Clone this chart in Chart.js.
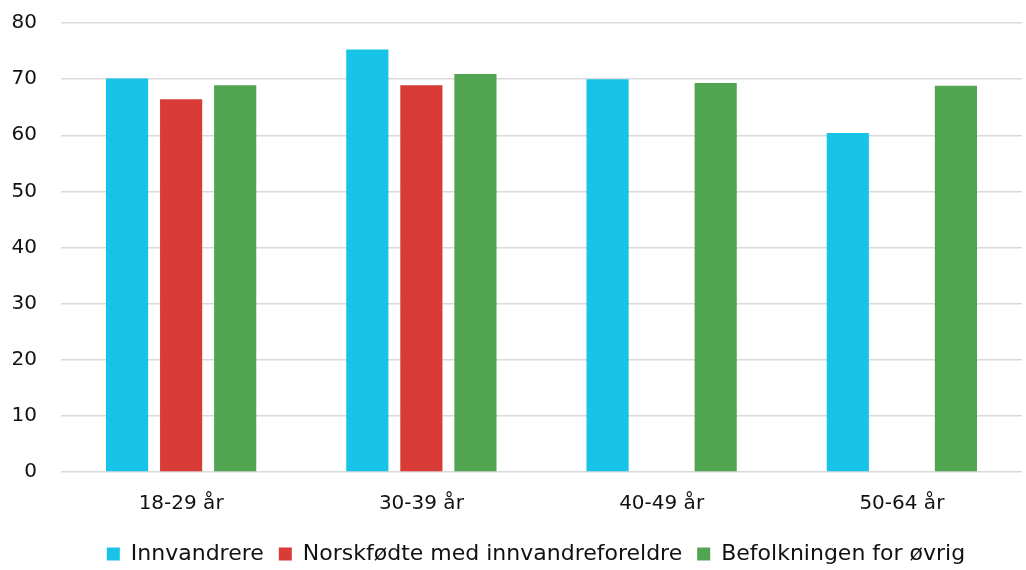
<!DOCTYPE html>
<html>
<head>
<meta charset="utf-8">
<script src="https://cdn.jsdelivr.net/npm/chart.js@4/dist/chart.umd.min.js"></script>
<style>
  html, body { margin: 0; padding: 0; background: #fff; }
  #wrap { width: 1026px; height: 570px; overflow: hidden; position: relative; }
  #chart { position: absolute; left: 0; top: -13px; }
</style>
</head>
<body>
<div id="wrap"><canvas id="chart" width="1026" height="588"></canvas></div>
<script>
const categories = ['18-29 år', '30-39 år', '40-49 år', '50-64 år'];
const innvandrere = [70.1, 75.3, 70.0, 60.4];
const norskfodte = [66.4, 68.9, null, null];
const befolkningen = [68.9, 70.9, 69.3, 68.8];
const yTicks = [0, 10, 20, 30, 40, 50, 60, 70, 80];

const font = 'DejaVu Sans';

// centre the legend under the plot area rather than the whole canvas
const legendShift = {
  id: 'legendShift',
  afterLayout(chart) {
    chart.legend.left += 23;
    chart.legend.right += 23;
  }
};

new Chart(document.getElementById('chart'), {
  type: 'bar',
  data: {
    labels: categories,
    datasets: [
      { label: 'Innvandrere', data: innvandrere, backgroundColor: '#17c4e8' },
      { label: 'Norskfødte med innvandreforeldre', data: norskfodte, backgroundColor: '#d93b37' },
      { label: 'Befolkningen for øvrig', data: befolkningen, backgroundColor: '#52a550' }
    ]
  },
  options: {
    responsive: false,
    animation: false,
    layout: { padding: { top: 0, right: 4, left: 4, bottom: 0 } },
    datasets: { bar: { categoryPercentage: 0.675, barPercentage: 0.78 } },
    plugins: {
      legend: {
        position: 'bottom',
        labels: {
          font: { family: font, size: 22 },
          color: '#111',
          boxWidth: 13,
          boxHeight: 13,
          padding: 15
        }
      },
      tooltip: { enabled: false }
    },
    scales: {
      x: {
        grid: { display: false },
        border: { display: false },
        ticks: { font: { family: font, size: 20 }, color: '#111', padding: 12 }
      },
      y: {
        min: 0,
        max: 80,
        afterBuildTicks: (axis) => { axis.ticks = yTicks.map((v) => ({ value: v })); },
        afterFit: (axis) => { axis.width = 57; },
        grid: { color: '#d9d9d9', lineWidth: 1.5, drawTicks: false },
        border: { display: false },
        ticks: { font: { family: font, size: 20 }, color: '#111', padding: 24 }
      }
    }
  },
  plugins: [legendShift]
});
</script>
</body>
</html>
